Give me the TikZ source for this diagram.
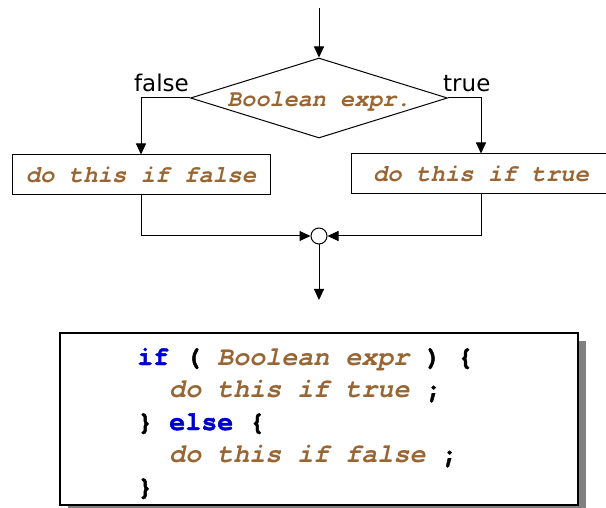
\documentclass[tikz,border=0pt]{standalone}
\usepackage{fontspec}
\newfontfamily\codefont{TeX Gyre Cursor}[BoldFeatures={FakeBold=1.6}]
\newfontfamily\labelfont{DejaVu Sans}
\usetikzlibrary{arrows.meta,shapes.geometric,shadows}

\definecolor{codebrown}{RGB}{153,102,51}
\definecolor{keyblue}{RGB}{0,0,204}

\newcommand{\kw}[1]{\textcolor{keyblue}{\textup{#1}}}
\newcommand{\ph}[1]{\textcolor{codebrown}{\itshape #1}}
\newcommand{\ind}{\hspace*{1.2em}}

\tikzset{
  x=1pt, y=-1pt,
  flow/.style={line width=1pt, draw=black, -{Triangle[length=11pt,width=10pt]}},
  decision/.style={diamond, draw, line width=1pt, inner sep=0pt,
    minimum width=257pt, minimum height=80pt},
  action/.style={rectangle, draw, line width=1pt, inner sep=0pt,
    minimum height=40pt, font=\fontsize{24}{24}\selectfont\codefont\bfseries\itshape,
    text=codebrown},
  branch/.style={font=\labelfont\fontsize{23}{23}\selectfont, inner sep=0pt},
  joint/.style={circle, draw, line width=1pt, fill=white, minimum size=16pt, inner sep=0pt},
  codeline/.style={anchor=base west, inner sep=0pt,
    font=\fontsize{26.7}{32.5}\selectfont\codefont\bfseries},
  codeframe/.style={rectangle, draw, line width=1.2pt, fill=white, inner sep=0pt,
    minimum width=518pt, minimum height=172pt,
    drop shadow={shadow xshift=8pt, shadow yshift=-8pt, fill=black!50, opacity=1}}
}

\begin{document}
\begin{tikzpicture}
  \clip (0,0) rectangle (606,508);
  \fill[white] (0,0) rectangle (606,508);

  % flowchart
  \coordinate (entry) at (319,8);
  \node[decision] (test) at (319,98) {};
  \node[anchor=base, inner sep=0pt,
        font=\fontsize{23.5}{23.5}\selectfont\codefont\bfseries\itshape,
        text=codebrown] (testtext) at (319,107) {Boolean expr.};
  \node[branch, anchor=base east] (flabel) at (189,92) {false};
  \node[branch, anchor=base west] (tlabel) at (443,92) {true};

  \node[action, minimum width=258pt] (ifalse) at (141,175) {do this if false};
  \node[action, minimum width=260pt] (itrue) at (481,174) {do this if true};

  \node[joint] (merge) at (319,236) {};
  \coordinate (exit) at (319,300);

  \draw[flow] (entry) -- (test.north);
  \draw[flow] (test.west) -| (ifalse.north);
  \draw[flow] (test.east) -| (itrue.north);
  \draw[flow] (ifalse.south) |- (merge.west);
  \draw[flow] (itrue.south) |- (merge.east);
  \draw[flow] (merge.south) -- (exit);

  % equivalent code
  \node[codeframe] (code) at (319,419) {};
  \node[codeline] (c1) at (137,365) {\kw{if} ( \ph{Boolean expr} ) \{};
  \node[codeline] (c2) at (137,397.5) {\ind\ph{do this if true} ;};
  \node[codeline] (c3) at (137,430) {\} \kw{else} \{};
  \node[codeline] (c4) at (137,462.5) {\ind\ph{do this if false} ;};
  \node[codeline] (c5) at (137,495) {\}};
\end{tikzpicture}
\end{document}
